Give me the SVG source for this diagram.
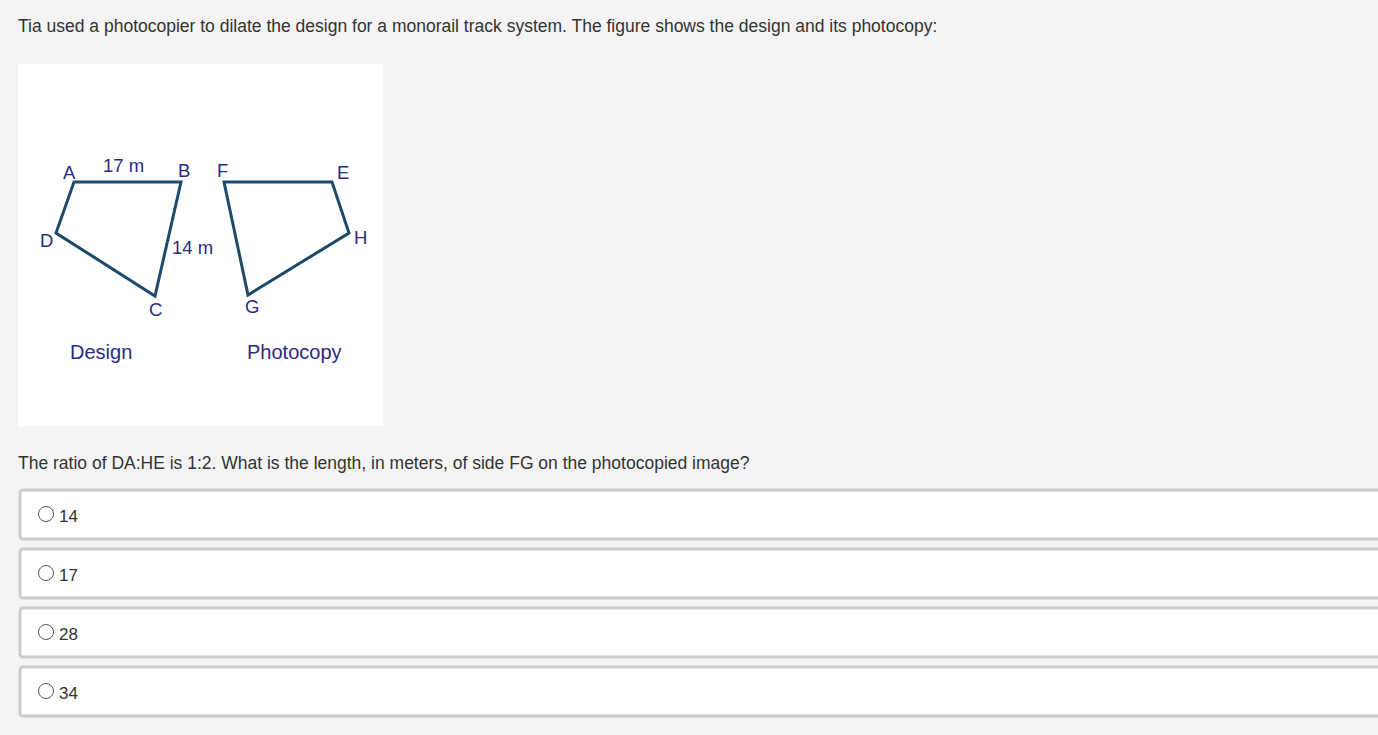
<svg xmlns="http://www.w3.org/2000/svg" width="1378" height="735" viewBox="0 0 1378 735">
<style>
.q{font-family:"Liberation Sans",Arial,sans-serif;font-size:17.5px;fill:#333}
.lb{font-family:"Liberation Sans",Arial,sans-serif;font-size:18.5px;fill:#2b2b85}
.cap{font-family:"Liberation Sans",Arial,sans-serif;font-size:20px;fill:#2b2b85}
.poly{fill:none;stroke:#1e4a6b;stroke-width:3;stroke-linejoin:miter}
.opt{fill:#fff;stroke:#cccccc;stroke-width:3}
.rad{fill:#fff;stroke:#555;stroke-width:1}
.ot{font-family:"Liberation Sans",Arial,sans-serif;font-size:17px;fill:#333}
</style>
<rect x="0" y="0" width="1378" height="735" fill="#f4f4f4"/>
<text class="q" x="18" y="32">Tia used a photocopier to dilate the design for a monorail track system. The figure shows the design and its photocopy:</text>
<g id="figure">
<rect x="18" y="64" width="365" height="362" fill="#fff"/>
<g id="design">
<polygon class="poly" points="74,182 181,182 155,296 56,233"/>
<text class="lb" x="63" y="179">A</text>
<text class="lb" x="103" y="172">17 m</text>
<text class="lb" x="178" y="177">B</text>
<text class="lb" x="40" y="247">D</text>
<text class="lb" x="172" y="254">14 m</text>
<text class="lb" x="149" y="316">C</text>
<text class="cap" x="70" y="359">Design</text>
</g>
<g id="photocopy">
<polygon class="poly" points="224,182 332,182 349,233 248,295"/>
<text class="lb" x="217" y="177">F</text>
<text class="lb" x="337" y="179">E</text>
<text class="lb" x="354" y="244">H</text>
<text class="lb" x="245" y="313">G</text>
<text class="cap" x="247" y="359">Photocopy</text>
</g>
</g>
<text class="q" x="18" y="469">The ratio of DA:HE is 1:2. What is the length, in meters, of side FG on the photocopied image?</text>
<g id="opt1"><rect class="opt" x="20" y="490" width="1370" height="49" rx="3"/><circle class="rad" cx="46" cy="514" r="7.5"/><text class="ot" x="59" y="522">14</text></g>
<g id="opt2"><rect class="opt" x="20" y="549" width="1370" height="49" rx="3"/><circle class="rad" cx="46" cy="573" r="7.5"/><text class="ot" x="59" y="581">17</text></g>
<g id="opt3"><rect class="opt" x="20" y="608" width="1370" height="49" rx="3"/><circle class="rad" cx="46" cy="632" r="7.5"/><text class="ot" x="59" y="640">28</text></g>
<g id="opt4"><rect class="opt" x="20" y="667" width="1370" height="49" rx="3"/><circle class="rad" cx="46" cy="691" r="7.5"/><text class="ot" x="59" y="699">34</text></g>
</svg>
